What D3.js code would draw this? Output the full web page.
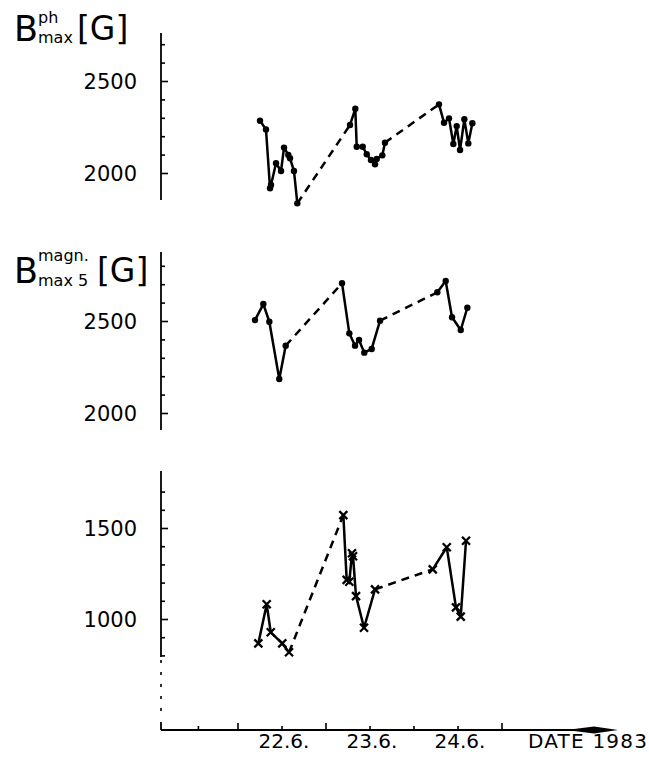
<!DOCTYPE html>
<html>
<head>
<meta charset="utf-8">
<script src="https://cdn.jsdelivr.net/npm/d3@7"></script>
<style>
  html, body { margin: 0; padding: 0; background: #fff; }
  svg { display: block; }
  text { font-family: "DejaVu Sans", sans-serif; fill: #000; }
</style>
</head>
<body>
<svg id="chart" width="649" height="763"></svg>
<script>
// Observation times (day of June 1983, fractional) and field strengths, split into observing runs.
const phDays = [
  [21.750, 21.818, 21.864, 21.875, 21.932, 21.989, 22.023, 22.072, 22.091, 22.136, 22.174],
  [22.773, 22.833, 22.849, 22.917, 22.963, 23.011, 23.057, 23.076, 23.140, 23.170],
  [23.784, 23.841, 23.898, 23.947, 23.985, 24.023, 24.072, 24.117, 24.163]
];
const phValues = [
  [2284, 2237, 1917, 1935, 2053, 2011, 2138, 2098, 2080, 2011, 1835],
  [2261, 2349, 2143, 2143, 2102, 2071, 2047, 2076, 2096, 2165],
  [2373, 2273, 2297, 2158, 2255, 2125, 2292, 2161, 2270]
];
const magDays = [
  [21.693, 21.788, 21.856, 21.969, 22.042],
  [22.682, 22.765, 22.830, 22.875, 22.935, 23.019, 23.114],
  [23.765, 23.860, 23.932, 24.031, 24.106]
];
const magValues = [
  [2505, 2592, 2496, 2185, 2366],
  [2705, 2433, 2366, 2397, 2328, 2348, 2502],
  [2656, 2717, 2520, 2451, 2572]
];
const lowDays = [
  [21.731, 21.826, 21.872, 22.003, 22.080],
  [22.697, 22.735, 22.765, 22.795, 22.807, 22.841, 22.932, 23.057],
  [23.713, 23.872, 23.977, 24.031, 24.091]
];
const lowValues = [
  [866, 1081, 927, 866, 817],
  [1571, 1215, 1205, 1361, 1345, 1126, 952, 1163],
  [1273, 1394, 1064, 1013, 1430]
];

// Axis ticks and labels
const phTicks = [2000, 2100, 2200, 2300, 2400, 2500, 2600, 2700];
const magTicks = [2000, 2100, 2200, 2300, 2400, 2500, 2600, 2700, 2800];
const lowTicks = [800, 900, 1000, 1100, 1200, 1300, 1400, 1500, 1600, 1700];
const labelledTicks = { ph: [2000, 2500], mag: [2000, 2500], low: [1000, 1500] };
const dayTicks = [21.05, 21.5, 22, 22.5, 23, 23.5, 24, 24.5];
const longDayTicks = [21.5, 22.5, 24.5];
const dayLabels = [22, 23, 24];
const dayLabelText = ["22.6.", "23.6.", "24.6."];

const svg = d3.select("#chart");
const axisX = 161;
const lineW = 2.5;

// Shared time scale
const x = d3.scaleLinear().domain([20.625, 25.818]).range([axisX, 618]);

const panels = [
  { key: "ph", days: phDays, values: phValues, ticks: phTicks,
    y: d3.scaleLinear().domain([2000, 2500]).range([173, 81]),
    axisSpan: [33, 200], marker: "dot" },
  { key: "mag", days: magDays, values: magValues, ticks: magTicks,
    y: d3.scaleLinear().domain([2000, 2500]).range([413, 321]),
    axisSpan: [252, 430], marker: "dot" },
  { key: "low", days: lowDays, values: lowValues, ticks: lowTicks,
    y: d3.scaleLinear().domain([1000, 1500]).range([619, 528]),
    axisSpan: [471, 657], marker: "cross" }
];

panels.forEach(p => {
  const g = svg.append("g");
  // vertical axis line
  g.append("line")
    .attr("x1", axisX).attr("x2", axisX)
    .attr("y1", p.axisSpan[0]).attr("y2", p.axisSpan[1])
    .attr("stroke", "#000").attr("stroke-width", 1.8);

  // ticks pointing right, longer at labelled values
  const major = labelledTicks[p.key];
  const minorAxis = d3.axisRight(p.y)
    .tickValues(p.ticks.filter(t => !major.includes(t)))
    .tickSize(4).tickFormat("");
  const majorAxis = d3.axisRight(p.y)
    .tickValues(major).tickSize(7).tickFormat("");
  [minorAxis, majorAxis].forEach(ax => {
    const a = g.append("g").attr("transform", `translate(${axisX},0)`).call(ax);
    a.select(".domain").remove();
    a.selectAll(".tick line").attr("stroke", "#000").attr("stroke-width", 1.6);
  });

  // tick labels on the left
  g.selectAll("text.ylab").data(major).enter().append("text")
    .attr("class", "ylab")
    .attr("x", 137).attr("y", d => p.y(d))
    .attr("dy", "0.36em")
    .attr("text-anchor", "end")
    .attr("font-size", 21)
    .text(d => d);

  const line = d3.line().x(d => x(d[0])).y(d => p.y(d[1]));
  const runs = p.days.map((ds, i) => ds.map((d, j) => [d, p.values[i][j]]));

  // solid runs
  runs.forEach(r => {
    g.append("path").attr("d", line(r))
      .attr("fill", "none").attr("stroke", "#000")
      .attr("stroke-width", lineW).attr("stroke-linejoin", "round");
  });
  // dashed connections between runs
  for (let i = 0; i < runs.length - 1; i++) {
    const seg = [runs[i][runs[i].length - 1], runs[i + 1][0]];
    g.append("path").attr("d", line(seg))
      .attr("fill", "none").attr("stroke", "#000")
      .attr("stroke-width", lineW).attr("stroke-dasharray", "8,6");
  }

  // markers
  const pts = runs.flat();
  if (p.marker === "dot") {
    g.selectAll("circle").data(pts).enter().append("circle")
      .attr("cx", d => x(d[0])).attr("cy", d => p.y(d[1]))
      .attr("r", 3.2).attr("fill", "#000");
  } else {
    const s = 4;
    const mk = g.selectAll("g.mk").data(pts).enter().append("g")
      .attr("transform", d => `translate(${x(d[0])},${p.y(d[1])})`);
    mk.append("path")
      .attr("d", `M${-s},${-s}L${s},${s}M${-s},${s}L${s},${-s}`)
      .attr("stroke", "#000").attr("stroke-width", 2.3);
  }
});

// broken continuation of the lowest axis down to the time axis
const baseY = 730;
svg.append("line")
  .attr("x1", axisX).attr("x2", axisX).attr("y1", 660).attr("y2", 719)
  .attr("stroke", "#000").attr("stroke-width", 1.6)
  .attr("stroke-dasharray", "3,9");
svg.append("line")
  .attr("x1", axisX).attr("x2", axisX).attr("y1", 722).attr("y2", baseY)
  .attr("stroke", "#000").attr("stroke-width", 1.8);

// time axis
const xg = svg.append("g");
xg.append("line")
  .attr("x1", axisX).attr("x2", x.range()[1] - 30)
  .attr("y1", baseY).attr("y2", baseY)
  .attr("stroke", "#000").attr("stroke-width", 1.8);
const xEnd = x.range()[1];
xg.append("path")
  .attr("d", `M${xEnd - 44},${baseY - 1}L${xEnd - 24},${baseY - 3.5}L${xEnd},${baseY}L${xEnd - 24},${baseY + 3.5}L${xEnd - 44},${baseY + 1}Z`)
  .attr("fill", "#000");

xg.selectAll("line.dt").data(dayTicks).enter().append("line")
  .attr("class", "dt")
  .attr("x1", d => x(d)).attr("x2", d => x(d))
  .attr("y1", baseY).attr("y2", d => baseY - (longDayTicks.includes(d) ? 7 : 4))
  .attr("stroke", "#000").attr("stroke-width", 1.6);

xg.selectAll("text.dl").data(dayLabels).enter().append("text")
  .attr("class", "dl")
  .attr("x", d => x(d) + 2).attr("y", 748)
  .attr("text-anchor", "middle").attr("font-size", 20)
  .text((d, i) => dayLabelText[i]);
xg.append("text")
  .attr("x", 528).attr("y", 748).attr("font-size", 20)
  .attr("letter-spacing", 1.2)
  .text("DATE 1983");

// axis titles
function title(xp, yp, sup, sub, supDy, subDy, gx) {
  const t = svg.append("g");
  t.append("text").attr("x", xp).attr("y", yp).attr("font-size", 35).text("B");
  t.append("text").attr("x", xp + 24).attr("y", yp + supDy).attr("font-size", 16).text(sup);
  t.append("text").attr("x", xp + 24).attr("y", yp + subDy).attr("font-size", 16).text(sub);
  t.append("text").attr("x", gx).attr("y", yp - 1).attr("font-size", 33).text("[G]");
}
title(14, 41, "ph", "max", -18, 2, 77);
title(14, 283, "magn.", "max 5", -22, 3, 97);
</script>
</body>
</html>
